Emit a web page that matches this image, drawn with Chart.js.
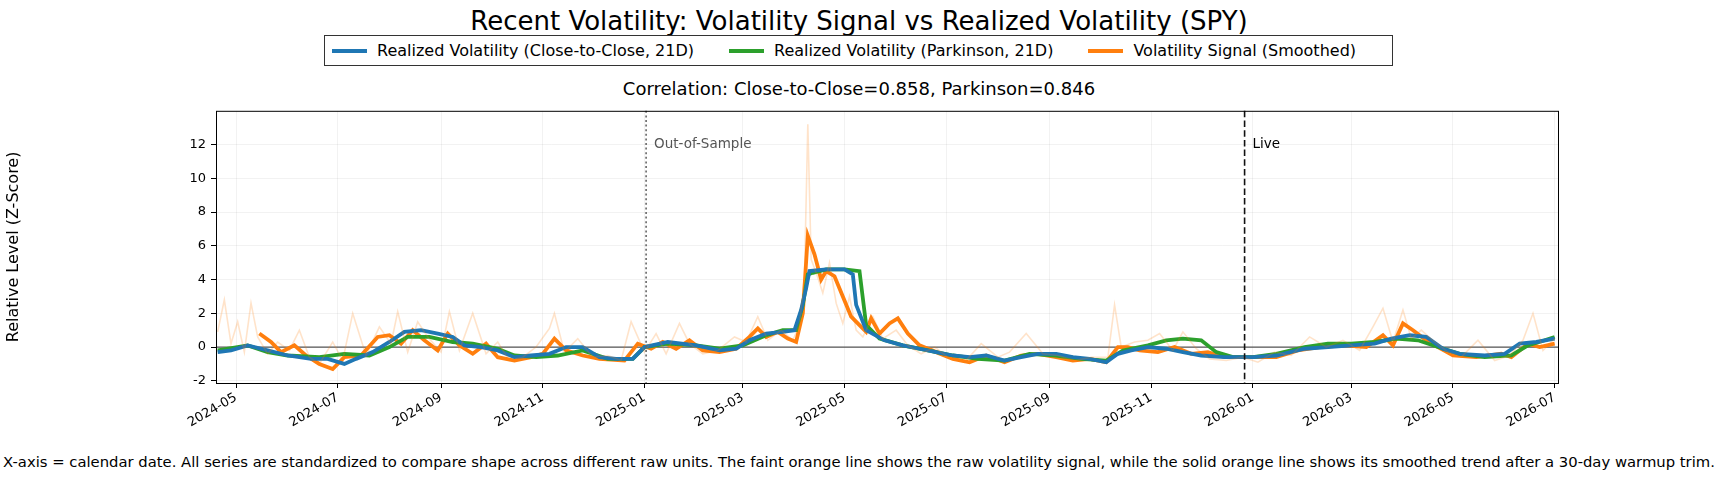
<!DOCTYPE html>
<html><head><meta charset="utf-8">
<script src="https://cdn.jsdelivr.net/npm/chart.js@4"></script>
<style>
body{margin:0;width:1718px;height:481px;background:#fff;font-family:"DejaVu Sans",sans-serif;position:relative;overflow:hidden}
.t{position:absolute;left:0;width:1718px;text-align:center;color:#000}
#legend{position:absolute;left:324px;top:35px;width:1069px;height:31px;border:1px solid #333;box-sizing:border-box;font-size:16px;display:flex;align-items:center}
#legend span.i{display:inline-flex;align-items:center;margin-left:7px;margin-right:28px}
#legend i{display:inline-block;width:35px;height:4px;margin-right:10px}
#wrap{position:absolute;left:0;top:98px;width:1718px;height:345px}
</style></head><body>
<div class="t" style="top:6px;font-size:26px">Recent Volatility: Volatility Signal vs Realized Volatility (SPY)</div>
<div id="legend">
<span class="i"><i style="background:#1f77b4"></i>Realized Volatility (Close-to-Close, 21D)</span>
<span class="i"><i style="background:#2ca02c"></i>Realized Volatility (Parkinson, 21D)</span>
<span class="i" style="margin-right:0"><i style="background:#ff7f0e"></i>Volatility Signal (Smoothed)</span>
</div>
<div class="t" style="top:78px;font-size:18px">Correlation: Close-to-Close=0.858, Parkinson=0.846</div>
<div id="wrap"><canvas id="c"></canvas></div>
<div style="position:absolute;left:0;width:1718px;top:453px;text-align:center;font-size:14.8px;white-space:nowrap">X-axis = calendar date. All series are standardized to compare shape across different raw units. The faint orange line shows the raw volatility signal, while the solid orange line shows its smoothed trend after a 30-day warmup trim.</div>
<script>
const c2cDates = ['2024-04-20','2024-04-28','2024-05-08','2024-05-20','2024-06-01','2024-06-15','2024-06-25','2024-07-05','2024-07-12','2024-07-22','2024-08-01','2024-08-10','2024-08-20','2024-08-30','2024-09-08','2024-09-15','2024-09-25','2024-10-05','2024-10-15','2024-10-25','2024-11-05','2024-11-15','2024-11-25','2024-12-05','2024-12-15','2024-12-25','2025-01-01','2025-01-15','2025-02-01','2025-02-15','2025-02-25','2025-03-05','2025-03-15','2025-03-25','2025-04-01','2025-04-05','2025-04-08','2025-04-10','2025-04-20','2025-05-01','2025-05-06','2025-05-08','2025-05-14','2025-05-25','2025-06-05','2025-06-15','2025-06-25','2025-07-05','2025-07-15','2025-07-25','2025-08-05','2025-08-15','2025-08-25','2025-09-05','2025-09-15','2025-09-25','2025-10-05','2025-10-12','2025-10-20','2025-10-30','2025-11-10','2025-11-20','2025-12-01','2025-12-15','2026-01-01','2026-01-15','2026-02-01','2026-02-15','2026-03-01','2026-03-15','2026-03-25','2026-04-05','2026-04-15','2026-04-25','2026-05-05','2026-05-20','2026-06-01','2026-06-10','2026-06-20','2026-07-01'];
const c2cValues = [-0.3,-0.2,0.1,-0.2,-0.5,-0.7,-0.7,-1.0,-0.7,-0.3,0.3,0.9,1.0,0.8,0.6,0.1,0.0,-0.2,-0.6,-0.5,-0.4,0.0,0.0,-0.6,-0.7,-0.7,0.0,0.3,0.1,-0.2,-0.1,0.4,0.8,0.9,1.0,2.2,3.5,4.5,4.6,4.6,4.3,2.5,1.0,0.4,0.1,-0.1,-0.3,-0.5,-0.6,-0.5,-0.8,-0.6,-0.4,-0.4,-0.6,-0.7,-0.9,-0.4,-0.2,0.0,-0.1,-0.3,-0.5,-0.6,-0.6,-0.5,-0.1,0.0,0.1,0.2,0.5,0.7,0.6,-0.1,-0.4,-0.5,-0.4,0.2,0.3,0.5];
const parkDates = ['2024-04-20','2024-05-08','2024-05-20','2024-06-01','2024-06-20','2024-07-05','2024-07-20','2024-08-01','2024-08-12','2024-08-25','2024-09-08','2024-09-20','2024-10-05','2024-10-15','2024-10-28','2024-11-10','2024-11-25','2024-12-10','2024-12-25','2025-01-01','2025-01-15','2025-02-01','2025-02-15','2025-03-01','2025-03-15','2025-03-25','2025-04-02','2025-04-06','2025-04-09','2025-04-12','2025-04-20','2025-05-01','2025-05-10','2025-05-14','2025-05-22','2025-06-05','2025-06-20','2025-07-05','2025-07-20','2025-08-05','2025-08-20','2025-09-05','2025-09-20','2025-10-05','2025-10-15','2025-10-30','2025-11-10','2025-11-20','2025-12-01','2025-12-10','2025-12-20','2026-01-01','2026-01-15','2026-02-01','2026-02-15','2026-03-01','2026-03-15','2026-03-28','2026-04-10','2026-04-22','2026-05-05','2026-05-20','2026-06-05','2026-06-15','2026-06-25','2026-07-01'];
const parkValues = [-0.2,0.1,-0.3,-0.5,-0.6,-0.4,-0.5,0.0,0.6,0.6,0.3,0.2,-0.1,-0.5,-0.6,-0.5,-0.2,-0.7,-0.7,0.0,0.2,0.1,-0.1,0.1,0.7,1.0,1.0,2.5,4.3,4.4,4.6,4.6,4.5,1.3,0.5,0.1,-0.2,-0.5,-0.7,-0.8,-0.4,-0.5,-0.7,-0.8,-0.2,0.1,0.4,0.5,0.4,-0.3,-0.6,-0.6,-0.4,0.0,0.2,0.2,0.3,0.5,0.4,0.0,-0.4,-0.6,-0.5,0.1,0.4,0.6];
const sigDates = ['2024-05-15','2024-05-22','2024-05-28','2024-06-05','2024-06-12','2024-06-20','2024-06-28','2024-07-05','2024-07-15','2024-07-25','2024-08-01','2024-08-08','2024-08-15','2024-08-22','2024-08-30','2024-09-05','2024-09-12','2024-09-20','2024-09-28','2024-10-05','2024-10-15','2024-10-25','2024-11-01','2024-11-08','2024-11-15','2024-11-25','2024-12-05','2024-12-20','2024-12-28','2025-01-05','2025-01-12','2025-01-20','2025-01-28','2025-02-05','2025-02-15','2025-02-25','2025-03-05','2025-03-10','2025-03-15','2025-03-22','2025-03-28','2025-04-02','2025-04-06','2025-04-09','2025-04-13','2025-04-17','2025-04-20','2025-04-25','2025-04-30','2025-05-05','2025-05-10','2025-05-14','2025-05-17','2025-05-22','2025-05-28','2025-06-02','2025-06-08','2025-06-15','2025-06-25','2025-07-05','2025-07-15','2025-07-25','2025-08-05','2025-08-15','2025-08-25','2025-09-05','2025-09-15','2025-09-25','2025-10-05','2025-10-12','2025-10-18','2025-10-25','2025-11-05','2025-11-15','2025-11-25','2025-12-05','2025-12-15','2026-01-01','2026-01-15','2026-01-28','2026-02-10','2026-02-25','2026-03-10','2026-03-20','2026-03-26','2026-04-01','2026-04-07','2026-04-15','2026-04-22','2026-05-01','2026-05-15','2026-05-30','2026-06-05','2026-06-15','2026-06-22','2026-07-01'];
const sigValues = [0.8,0.3,-0.3,0.1,-0.5,-1.0,-1.3,-0.6,-0.5,0.6,0.7,0.2,1.0,0.4,-0.2,0.8,0.1,-0.4,0.2,-0.6,-0.8,-0.6,-0.4,0.5,-0.2,-0.5,-0.7,-0.8,0.2,-0.1,0.3,-0.1,0.4,-0.2,-0.3,-0.1,0.6,1.1,0.6,0.9,0.5,0.3,2.0,6.6,5.5,4.0,4.5,4.2,3.0,1.8,1.3,0.9,1.7,0.8,1.4,1.7,0.8,0.1,-0.3,-0.7,-0.9,-0.5,-0.9,-0.5,-0.4,-0.6,-0.8,-0.7,-0.9,0.0,0.0,-0.2,-0.3,0.0,-0.4,-0.3,-0.6,-0.6,-0.6,-0.2,0.0,0.1,0.0,0.7,0.1,1.4,1.0,0.4,0.0,-0.5,-0.6,-0.4,-0.6,0.2,0.0,0.2];
const rawDates = ['2024-04-20','2024-04-24','2024-04-28','2024-05-02','2024-05-06','2024-05-10','2024-05-14','2024-05-20','2024-05-26','2024-06-02','2024-06-08','2024-06-14','2024-06-20','2024-06-28','2024-07-04','2024-07-10','2024-07-18','2024-07-26','2024-08-02','2024-08-06','2024-08-12','2024-08-18','2024-08-24','2024-09-01','2024-09-06','2024-09-12','2024-09-20','2024-09-28','2024-10-05','2024-10-12','2024-10-20','2024-10-28','2024-11-05','2024-11-08','2024-11-14','2024-11-22','2024-12-01','2024-12-10','2024-12-18','2024-12-24','2025-01-01','2025-01-08','2025-01-14','2025-01-22','2025-01-28','2025-02-05','2025-02-14','2025-02-24','2025-03-03','2025-03-10','2025-03-16','2025-03-24','2025-03-31','2025-04-04','2025-04-07','2025-04-09','2025-04-11','2025-04-14','2025-04-18','2025-04-22','2025-04-26','2025-04-30','2025-05-04','2025-05-08','2025-05-12','2025-05-18','2025-05-24','2025-06-01','2025-06-08','2025-06-16','2025-06-24','2025-07-02','2025-07-12','2025-07-22','2025-08-01','2025-08-08','2025-08-18','2025-08-28','2025-09-06','2025-09-16','2025-09-26','2025-10-06','2025-10-10','2025-10-14','2025-10-22','2025-10-30','2025-11-06','2025-11-14','2025-11-20','2025-11-28','2025-12-06','2025-12-16','2025-12-26','2026-01-04','2026-01-14','2026-01-24','2026-02-04','2026-02-14','2026-02-24','2026-03-06','2026-03-14','2026-03-20','2026-03-26','2026-04-01','2026-04-06','2026-04-12','2026-04-20','2026-04-28','2026-05-06','2026-05-16','2026-05-26','2026-06-04','2026-06-12','2026-06-18','2026-06-24','2026-07-01'];
const rawValues = [0.9,2.8,0.2,1.5,-0.3,2.6,0.6,-0.4,0.3,-0.2,1.0,-0.6,-1.0,0.3,-0.8,2.0,-0.5,1.2,0.2,2.1,-0.3,1.5,0.6,-0.3,2.1,-0.2,2.0,-0.4,0.3,-0.8,-0.6,0.0,1.1,2.0,-0.3,0.5,-0.6,-0.5,-0.8,1.5,-0.3,0.8,-0.4,1.4,0.2,-0.4,-0.2,0.6,0.3,1.8,0.4,1.0,0.4,1.3,4.2,13.2,5.2,4.4,3.2,5.0,2.6,1.4,3.0,1.0,0.6,1.8,0.5,1.0,0.1,-0.4,0.0,-0.6,-0.9,0.2,-0.6,-0.3,0.8,-0.4,-0.5,-0.8,-0.6,-0.6,2.5,0.0,0.3,0.4,0.8,-0.2,0.9,-0.1,-0.7,-0.8,-0.6,-0.9,-0.3,-0.5,0.6,0.0,0.4,-0.2,1.2,2.3,0.3,2.2,0.5,1.0,0.3,-0.3,-0.6,0.4,-0.8,-0.5,0.4,2.0,-0.2,0.5];
const yTicks = [-2,0,2,4,6,8,10,12];
const oosDate = '2025-01-02';
const liveDate = '2025-12-27';

const ts = s => Date.parse(s + 'T00:00:00Z');
const pts = (ds, vs) => ds.map((d, i) => ({ x: ts(d), y: vs[i] }));
const xTicks = [];
for (let y = 2024, m = 4; y < 2026 || m <= 6; ) {
  xTicks.push(Date.UTC(y, m, 1));
  m += 2; if (m > 11) { m -= 12; y++; }
}
const fmt = v => { const d = new Date(v); return d.getUTCFullYear() + '-' + String(d.getUTCMonth() + 1).padStart(2, '0'); };

const deco = {
  id: 'deco',
  beforeDatasetsDraw(ch) {
    const { ctx, chartArea: a, scales: { y } } = ch;
    ctx.save();
    ctx.strokeStyle = '#555'; ctx.lineWidth = 1.3;
    const y0 = y.getPixelForValue(0);
    ctx.beginPath(); ctx.moveTo(a.left, y0); ctx.lineTo(a.right, y0); ctx.stroke();
    ctx.restore();
  },
  afterDatasetsDraw(ch) {
    const { ctx, chartArea: a, scales: { x } } = ch;
    ctx.save();
    const xo = x.getPixelForValue(ts(oosDate));
    ctx.strokeStyle = '#666'; ctx.lineWidth = 1.6; ctx.setLineDash([2, 2.6]);
    ctx.beginPath(); ctx.moveTo(xo, a.top); ctx.lineTo(xo, a.bottom); ctx.stroke();
    const xl = x.getPixelForValue(ts(liveDate));
    ctx.strokeStyle = '#111'; ctx.setLineDash([6.5, 3.2]);
    ctx.beginPath(); ctx.moveTo(xl, a.top); ctx.lineTo(xl, a.bottom); ctx.stroke();
    ctx.setLineDash([]);
    ctx.font = '13.5px "DejaVu Sans"'; ctx.textBaseline = 'middle';
    ctx.fillStyle = '#555'; ctx.fillText('Out-of-Sample', xo + 8, a.top + 34);
    ctx.fillStyle = '#000'; ctx.fillText('Live', xl + 8, a.top + 34);
    ctx.strokeStyle = '#000'; ctx.lineWidth = 1;
    ctx.strokeRect(a.left + 0.5, a.top + 0.5, a.right - a.left, a.bottom - a.top);
    ctx.restore();
  }
};

const line = (label, data, color, w) => ({ label, data, borderColor: color, borderWidth: w, pointRadius: 0, tension: 0, fill: false });

new Chart(document.getElementById('c'), {
  type: 'line',
  data: { datasets: [
    line('Raw', pts(rawDates, rawValues), 'rgba(255,127,14,0.22)', 1.6),
    line('Realized Volatility (Close-to-Close, 21D)', pts(c2cDates, c2cValues), '#1f77b4', 3.8),
    line('Realized Volatility (Parkinson, 21D)', pts(parkDates, parkValues), '#2ca02c', 3.8),
    line('Volatility Signal (Smoothed)', pts(sigDates, sigValues), '#ff7f0e', 3.8),
  ] },
  options: {
    responsive: true, maintainAspectRatio: false, animation: false,
    layout: { padding: { top: 10.5, right: 160, left: 0, bottom: 0 } },
    plugins: { legend: { display: false }, tooltip: { enabled: false } },
    scales: {
      x: {
        type: 'linear', min: ts('2024-04-19'), max: ts('2026-07-03'),
        afterBuildTicks: s => { s.ticks = xTicks.map(v => ({ value: v })); },
        afterFit: s => { s.height = 60; },
        ticks: { callback: fmt, maxRotation: 30, minRotation: 30, color: '#000', font: { family: 'DejaVu Sans', size: 13 }, padding: 2 },
        grid: { color: 'rgba(0,0,0,0.05)', tickLength: 5, tickColor: '#000' },
        border: { display: false }
      },
      y: {
        min: -2.13, max: 14.0,
        afterBuildTicks: s => { s.ticks = yTicks.map(v => ({ value: v })); },
        afterFit: s => { s.width = 216; },
        title: { display: true, text: 'Relative Level (Z-Score)', color: '#000', font: { family: 'DejaVu Sans', size: 16 }, padding: { bottom: 6 } },
        ticks: { color: '#000', font: { family: 'DejaVu Sans', size: 13 }, padding: 5 },
        grid: { color: 'rgba(0,0,0,0.05)', tickLength: 5, tickColor: '#000' },
        border: { display: false }
      }
    }
  },
  plugins: [deco]
});
</script>
</body></html>
